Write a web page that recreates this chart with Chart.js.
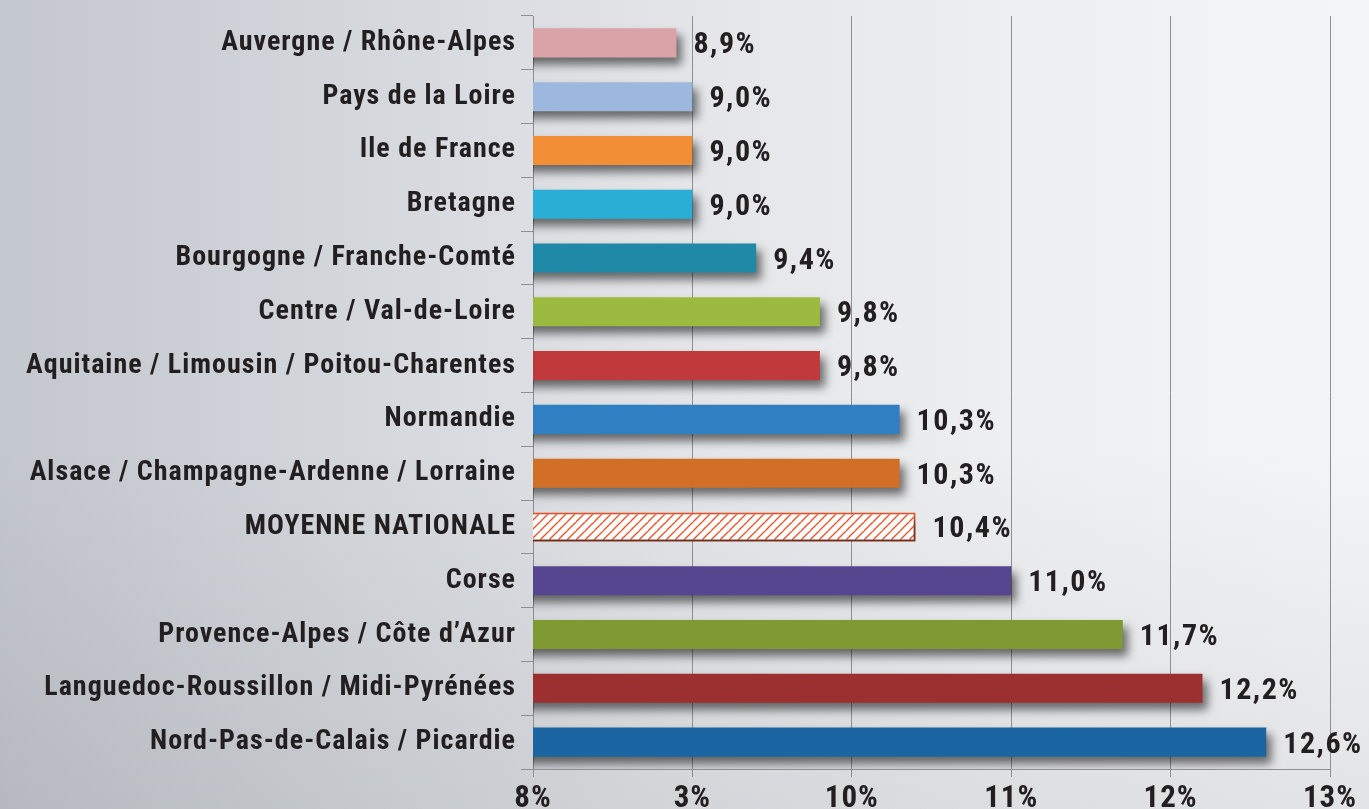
<!DOCTYPE html>
<html>
<head>
<meta charset="utf-8">
<script src="https://cdn.jsdelivr.net/npm/chart.js@4/dist/chart.umd.min.js"></script>
<style>
html,body{margin:0;padding:0;overflow:hidden;width:1369px;height:809px;}
body{background:
  linear-gradient(to bottom, rgba(255,255,255,0.0) 0%, rgba(0,0,0,0.0) 55%, rgba(0,0,0,0.07) 100%),
  linear-gradient(to right, #c3c7ce 0%, #d3d6db 25%, #e3e5e8 50%, #eeeff1 75%, #f4f5f6 100%);}
canvas{display:block;}
</style>
</head>
<body>
<canvas id="c" width="1369" height="840"></canvas>
<script>
const categories = [
  'Auvergne / Rhône-Alpes',
  'Pays de la Loire',
  'Ile de France',
  'Bretagne',
  'Bourgogne / Franche-Comté',
  'Centre / Val-de-Loire',
  'Aquitaine / Limousin / Poitou-Charentes',
  'Normandie',
  'Alsace / Champagne-Ardenne / Lorraine',
  'MOYENNE NATIONALE',
  'Corse',
  'Provence-Alpes / Côte d\u2019Azur',
  'Languedoc-Roussillon / Midi-Pyrénées',
  'Nord-Pas-de-Calais / Picardie'
];
const values = [8.9, 9.0, 9.0, 9.0, 9.4, 9.8, 9.8, 10.3, 10.3, 10.4, 11.0, 11.7, 12.2, 12.6];
const tickLabels = ['8%', '3%', '10%', '11%', '12%', '13%'];
const barColors = ['#d9a3a8', '#9db8de', '#f28f36', '#2aaed6', '#1f8aa8', '#9dba40', '#c0393b',
  '#2f7fc2', '#d06f25', 'HATCH', '#55468f', '#7f9a33', '#9c2f2f', '#1b65a2'];

const FONT = "Roboto, 'DejaVu Sans Condensed', sans-serif";
const WEIGHT = 'bold condensed';
const CANVAS_H = 840;

function hatchPattern() {
  const s = 9;
  const pc = document.createElement('canvas');
  pc.width = s; pc.height = s;
  const p = pc.getContext('2d');
  p.fillStyle = '#ffffff';
  p.fillRect(0, 0, s, s);
  p.strokeStyle = '#e9542b';
  p.lineWidth = 1.4;
  p.beginPath();
  p.moveTo(-1, s + 1); p.lineTo(s + 1, -1);
  p.moveTo(-1 - s, s + 1); p.lineTo(1, -1);
  p.moveTo(s - 1, 2 * s + 1); p.lineTo(2 * s + 1, s - 1);
  p.stroke();
  return p.createPattern(pc, 'repeat');
}

const ctx = document.getElementById('c').getContext('2d');
const pat = hatchPattern();
const bg = barColors.map(c => c === 'HATCH' ? pat : c);
const bw = barColors.map(c => c === 'HATCH' ? 2 : 0);
const bc = barColors.map(c => c === 'HATCH' ? '#e9542b' : 'rgba(0,0,0,0)');

const spacingPlugin = {
  id: 'spacing',
  beforeDraw(chart) { chart.ctx.letterSpacing = '1px'; },
  afterDraw(chart) { chart.ctx.letterSpacing = '0px'; }
};

const shadowPlugin = {
  id: 'shadow',
  beforeDatasetsDraw(chart) {
    const c = chart.ctx;
    c.save();
    c.shadowColor = 'rgba(0,0,0,0.55)';
    c.shadowBlur = 10;
    c.shadowOffsetX = 5;
    c.shadowOffsetY = 7;
  },
  afterDatasetsDraw(chart) {
    chart.ctx.restore();
  }
};

const valueLabels = {
  id: 'valueLabels',
  afterDatasetsDraw(chart) {
    const c = chart.ctx;
    const meta = chart.getDatasetMeta(0);
    c.save();
    c.font = WEIGHT + ' 30px ' + FONT;
    c.letterSpacing = '1.5px';
    c.fillStyle = '#231f20';
    c.textAlign = 'left';
    c.textBaseline = 'middle';
    meta.data.forEach((el, i) => {
      const txt = values[i].toFixed(1).replace('.', ',') + '%';
      c.fillText(txt, el.x + 17, el.y + 3);
    });
    c.restore();
  }
};

new Chart(ctx, {
  type: 'bar',
  data: {
    labels: categories,
    datasets: [{
      data: values,
      backgroundColor: bg,
      borderColor: bc,
      borderWidth: bw,
      borderSkipped: false,
      barPercentage: 0.54,
      categoryPercentage: 1.0
    }]
  },
  options: {
    indexAxis: 'y',
    responsive: false,
    animation: false,
    layout: { padding: { top: 16, right: 39, left: 0, bottom: 0 } },
    plugins: { legend: { display: false }, tooltip: { enabled: false } },
    scales: {
      x: {
        min: 8, max: 13,
        afterFit(scale) { scale.height = CANVAS_H - 769; },
        ticks: {
          stepSize: 1,
          padding: 4,
          color: '#231f20',
          font: { family: FONT, size: 31, weight: WEIGHT },
          callback: (v, i) => tickLabels[i]
        },
        grid: { color: '#8c8e92', lineWidth: 1, tickLength: 8, drawOnChartArea: true },
        border: { color: '#8c8e92', width: 1 }
      },
      y: {
        afterFit(scale) { scale.width = 533; scale.paddingTop = 0; scale.paddingBottom = 0; },
        ticks: {
          padding: 5,
          color: '#231f20',
          font: { family: FONT, size: 28, weight: WEIGHT }
        },
        grid: { drawOnChartArea: false, offset: true, tickLength: 12, color: '#8c8e92' },
        border: { color: '#8c8e92', width: 1 }
      }
    }
  },
  plugins: [spacingPlugin, shadowPlugin, valueLabels]
});
</script>
</body>
</html>
